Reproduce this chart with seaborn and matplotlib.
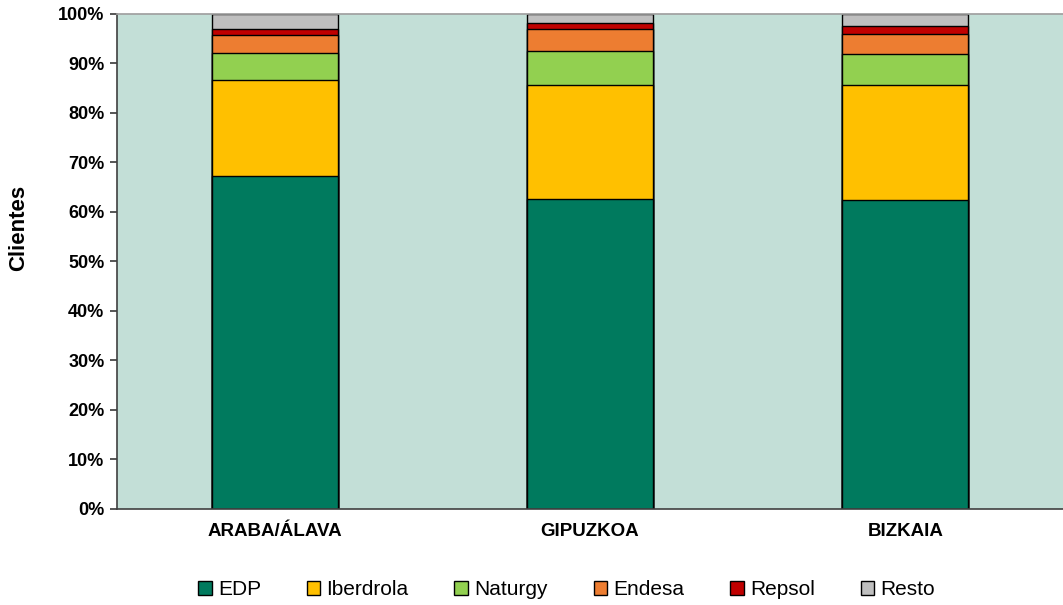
import numpy as np
import pandas as pd
import matplotlib
matplotlib.use("Agg")
import matplotlib.pyplot as plt
import seaborn as sns
from matplotlib.patches import Patch

provincias = ["ARABA/ÁLAVA", "GIPUZKOA", "BIZKAIA"]
comercializadoras = ["EDP", "Iberdrola", "Naturgy", "Endesa", "Repsol", "Resto"]

edp       = [67.3, 62.6, 62.4]
iberdrola = [19.4, 23.1, 23.3]
naturgy   = [5.4, 6.8, 6.3]
endesa    = [3.7, 4.5, 4.0]
repsol    = [1.1, 1.1, 1.6]
resto     = [3.1, 1.9, 2.4]

colores = ["#007A5E", "#FFC000", "#92D050", "#ED7D31", "#C00000", "#BFBFBF"]

sns.set_theme(style="white")
plt.rcParams["font.family"] = ["Liberation Sans", "DejaVu Sans"]
plt.rcParams["text.color"] = "black"
plt.rcParams["xtick.color"] = "black"
plt.rcParams["ytick.color"] = "black"
plt.rcParams["axes.labelcolor"] = "black"

df = pd.DataFrame({
    "provincia": provincias,
    "EDP": edp, "Iberdrola": iberdrola, "Naturgy": naturgy,
    "Endesa": endesa, "Repsol": repsol, "Resto": resto,
})
cum = df[comercializadoras].cumsum(axis=1)
cum["provincia"] = provincias

fig = plt.figure(figsize=(10.63, 6.05), dpi=100)
ax = fig.add_axes([0.110, 0.1587, 0.890, 0.8183])
ax.set_facecolor("#C3DFD7")

# draw cumulative layers, tallest first
for name, col in reversed(list(zip(comercializadoras, colores))):
    sns.barplot(data=cum, x="provincia", y=name, color=col, width=0.40,
                edgecolor="black", linewidth=1.0, saturation=1, ax=ax)

ax.set_xlim(-0.5, 2.5)
ax.set_ylim(0, 100)
ax.set_yticks(np.arange(0, 101, 10))
ax.set_yticklabels([f"{v}%" for v in range(0, 101, 10)], fontsize=13, fontweight="bold")
ax.set_xticks([0, 1, 2])
ax.set_xticklabels(provincias, fontsize=13.5, fontweight="bold")
ax.set_xticks([-0.5, 0.5, 1.5, 2.5], minor=True)
ax.tick_params(axis="x", which="major", length=0, pad=10)
ax.tick_params(axis="x", which="minor", length=5, color="#404040", direction="out")
ax.tick_params(axis="y", length=5, color="#404040", direction="out", left=True, pad=4)
ax.set_xlabel("")
ax.set_ylabel("")
# axis title sits a little above the middle in the original
fig.text(0.0175, 0.623, "Clientes", rotation=90, ha="center", va="center",
         fontsize=16, fontweight="bold")

for s in ["left", "bottom"]:
    ax.spines[s].set_color("#404040")
    ax.spines[s].set_linewidth(1.2)
ax.spines["top"].set_color("#A0A0A0")
ax.spines["right"].set_visible(False)

handles = [Patch(facecolor=c, edgecolor="black", label=n) for n, c in zip(comercializadoras, colores)]
fig.legend(handles=handles, loc="center", bbox_to_anchor=(0.533, 0.025), ncol=6,
           frameon=False, fontsize=15, handlelength=0.65, handleheight=0.65,
           handletextpad=0.3, columnspacing=2.2)

fig.savefig("out.png", dpi=100)
